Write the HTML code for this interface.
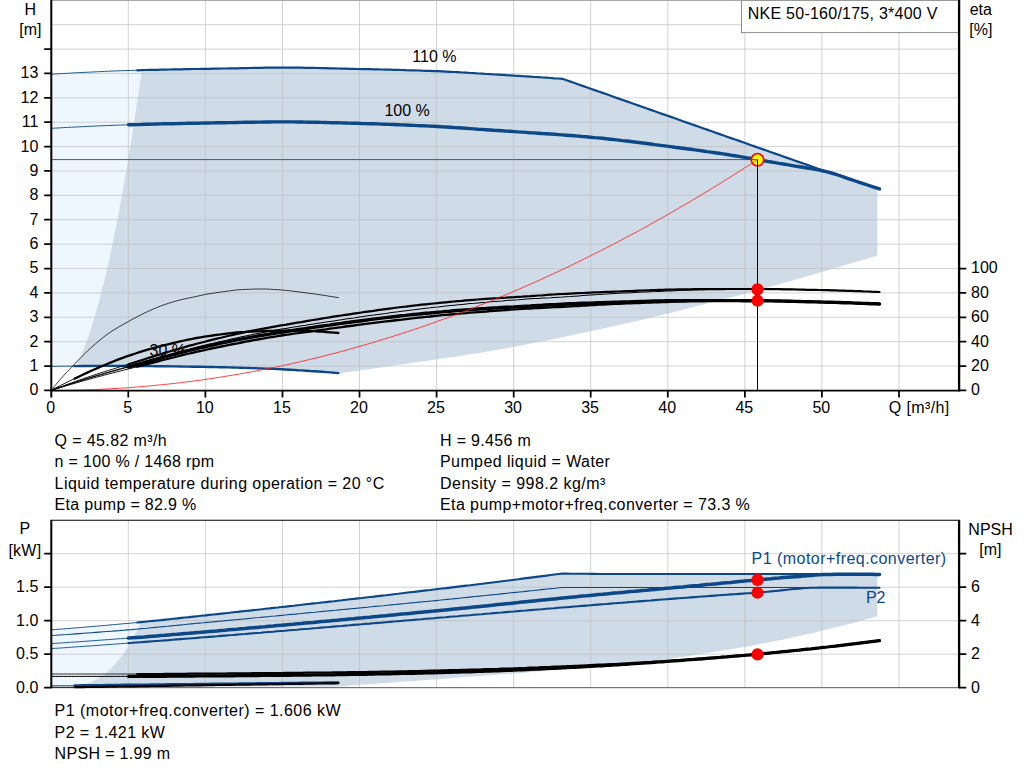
<!DOCTYPE html>
<html lang="en"><head><meta charset="utf-8"><title>Pump curve</title>
<style>html,body{margin:0;padding:0;background:#fff;overflow:hidden}svg{display:block;font-family:"Liberation Sans",sans-serif}</style></head>
<body>
<svg width="1024" height="781" viewBox="0 0 1024 781" font-family="'Liberation Sans', sans-serif" font-size="16" fill="#000">
<rect x="0" y="0" width="1024" height="781" fill="#fff"/>
<path d="M51.2 74.2 L55.4 74.0 L59.5 73.7 L63.6 73.5 L67.8 73.2 L71.9 73.0 L76.0 72.8 L80.1 72.6 L84.2 72.3 L88.4 72.1 L92.5 71.9 L96.6 71.7 L100.8 71.5 L104.9 71.4 L109.0 71.2 L113.1 71.0 L117.2 70.9 L121.4 70.7 L125.5 70.6 L129.6 70.5 L133.8 70.3 L137.9 70.2 L142.0 70.1 L142.0 70.1 L140.5 80.0 L139.8 84.9 L139.1 89.7 L138.4 94.6 L137.6 99.4 L136.9 104.3 L136.2 109.1 L135.4 114.0 L134.7 118.8 L134.0 123.7 L133.2 128.5 L132.4 133.4 L131.7 138.2 L130.9 143.1 L130.1 147.9 L129.3 152.8 L128.5 157.6 L127.7 162.5 L126.9 167.3 L126.1 172.2 L125.2 177.0 L124.4 181.9 L123.5 186.7 L122.7 191.6 L121.8 196.4 L120.9 201.3 L120.0 206.1 L119.1 211.0 L118.2 215.8 L117.2 220.7 L116.3 225.5 L115.3 230.4 L114.3 235.2 L113.3 240.1 L112.3 244.9 L111.3 249.8 L110.3 254.6 L109.2 259.5 L108.1 264.3 L107.0 269.2 L105.9 274.0 L104.7 278.9 L103.6 283.7 L102.3 288.6 L101.1 293.4 L99.9 298.3 L98.6 303.1 L97.2 308.0 L95.8 312.8 L94.4 317.7 L93.0 322.5 L91.4 327.4 L89.9 332.2 L88.2 337.1 L86.5 341.9 L84.7 346.8 L82.8 351.6 L80.7 356.5 L78.5 361.3 L76.2 366.2 L76.2 366.1 L72.0 366.1 L67.9 366.2 L63.7 366.2 L59.6 366.3 L55.4 366.3 L51.2 366.4Z" fill="rgba(85,165,245,0.10)"/>
<path d="M76.2 366.2 L78.5 361.3 L80.7 356.5 L82.8 351.6 L84.7 346.8 L86.5 341.9 L88.2 337.1 L89.9 332.2 L91.4 327.4 L93.0 322.5 L94.4 317.7 L95.8 312.8 L97.2 308.0 L98.6 303.1 L99.9 298.3 L101.1 293.4 L102.3 288.6 L103.6 283.7 L104.7 278.9 L105.9 274.0 L107.0 269.2 L108.1 264.3 L109.2 259.5 L110.3 254.6 L111.3 249.8 L112.3 244.9 L113.3 240.1 L114.3 235.2 L115.3 230.4 L116.3 225.5 L117.2 220.7 L118.2 215.8 L119.1 211.0 L120.0 206.1 L120.9 201.3 L121.8 196.4 L122.7 191.6 L123.5 186.7 L124.4 181.9 L125.2 177.0 L126.1 172.2 L126.9 167.3 L127.7 162.5 L128.5 157.6 L129.3 152.8 L130.1 147.9 L130.9 143.1 L131.7 138.2 L132.4 133.4 L133.2 128.5 L134.0 123.7 L134.7 118.8 L135.4 114.0 L136.2 109.1 L136.9 104.3 L137.6 99.4 L138.4 94.6 L139.1 89.7 L139.8 84.9 L140.5 80.0 L142.0 70.1 L142.0 70.1 L146.0 70.0 L150.0 69.9 L154.0 69.8 L158.0 69.7 L162.0 69.6 L166.0 69.6 L170.0 69.5 L174.0 69.4 L178.0 69.3 L182.0 69.2 L186.1 69.2 L190.1 69.1 L194.1 69.0 L198.1 68.9 L202.1 68.9 L206.1 68.8 L210.1 68.7 L214.1 68.7 L218.1 68.6 L222.1 68.5 L226.1 68.5 L230.1 68.4 L234.1 68.3 L238.1 68.2 L242.1 68.2 L246.1 68.1 L250.1 68.0 L254.1 67.9 L258.1 67.9 L262.1 67.8 L266.1 67.7 L270.2 67.7 L274.2 67.6 L278.2 67.6 L282.2 67.6 L286.2 67.6 L290.2 67.6 L294.2 67.7 L298.2 67.7 L302.2 67.7 L306.2 67.8 L310.2 67.9 L314.2 67.9 L318.2 68.0 L322.2 68.1 L326.2 68.2 L330.2 68.3 L334.2 68.4 L338.2 68.5 L342.2 68.6 L346.2 68.7 L350.2 68.8 L354.3 68.9 L358.3 69.0 L362.3 69.1 L366.3 69.2 L370.3 69.2 L374.3 69.3 L378.3 69.4 L382.3 69.5 L386.3 69.6 L390.3 69.7 L394.3 69.8 L398.3 69.9 L402.3 70.1 L406.3 70.2 L410.3 70.3 L414.3 70.4 L418.3 70.5 L422.3 70.7 L426.3 70.8 L430.3 71.0 L434.3 71.1 L438.4 71.3 L442.4 71.4 L446.4 71.6 L450.4 71.8 L454.4 72.0 L458.4 72.3 L462.4 72.5 L466.4 72.7 L470.4 73.0 L474.4 73.2 L478.4 73.5 L482.4 73.7 L486.4 74.0 L490.4 74.2 L494.4 74.5 L498.4 74.7 L502.4 74.9 L506.4 75.2 L510.4 75.4 L514.4 75.7 L518.4 75.9 L522.5 76.2 L526.5 76.4 L530.5 76.7 L534.5 77.0 L538.5 77.2 L542.5 77.5 L546.5 77.7 L550.5 78.0 L554.5 78.3 L558.5 78.5 L562.5 78.8 L827.0 171.9 L827.0 171.9 L831.2 173.0 L835.4 174.2 L839.6 175.6 L843.8 177.1 L848.0 178.5 L852.1 179.9 L856.3 181.3 L860.5 182.7 L864.7 184.1 L868.9 185.4 L873.1 186.8 L877.3 188.2 L877.3 255.6 L871.2 257.4 L865.2 259.2 L859.1 261.0 L853.1 262.8 L847.0 264.6 L841.0 266.4 L834.9 268.1 L828.9 269.9 L822.8 271.7 L816.7 273.4 L810.7 275.2 L804.6 276.9 L798.6 278.7 L792.5 280.4 L786.5 282.1 L780.4 283.9 L774.4 285.6 L768.3 287.2 L762.3 288.9 L756.2 290.5 L750.1 292.2 L744.1 293.8 L738.0 295.4 L732.0 296.9 L725.9 298.5 L719.9 300.1 L713.8 301.7 L707.8 303.3 L701.7 304.9 L695.6 306.5 L689.6 308.0 L683.5 309.6 L677.5 311.1 L671.4 312.7 L665.4 314.1 L659.3 315.6 L653.3 317.0 L647.2 318.5 L641.2 319.9 L635.1 321.3 L629.0 322.7 L623.0 324.1 L616.9 325.4 L610.9 326.8 L604.8 328.1 L598.8 329.4 L592.7 330.7 L586.7 332.0 L580.6 333.3 L574.5 334.6 L568.5 335.9 L562.4 337.2 L556.4 338.4 L550.3 339.7 L544.3 340.9 L538.2 342.1 L532.2 343.3 L526.1 344.5 L520.1 345.7 L514.0 346.8 L507.9 347.9 L501.9 349.0 L495.8 350.1 L489.8 351.2 L483.7 352.2 L477.7 353.2 L471.6 354.1 L465.6 355.1 L459.5 356.0 L453.4 356.9 L447.4 357.7 L441.3 358.6 L435.3 359.5 L429.2 360.4 L423.2 361.2 L417.1 362.1 L411.1 363.0 L405.0 363.9 L399.0 364.8 L392.9 365.7 L386.8 366.6 L380.8 367.5 L374.7 368.3 L368.7 369.2 L362.6 370.0 L356.6 370.9 L350.5 371.7 L344.5 372.5 L338.4 373.3 L338.4 373.1 L334.4 372.8 L330.3 372.5 L326.3 372.1 L322.3 371.8 L318.2 371.5 L314.2 371.2 L310.2 371.0 L306.1 370.7 L302.1 370.4 L298.1 370.2 L294.0 369.9 L290.0 369.7 L286.0 369.5 L281.9 369.3 L277.9 369.1 L273.8 368.9 L269.8 368.7 L265.8 368.6 L261.7 368.4 L257.7 368.3 L253.7 368.1 L249.6 368.0 L245.6 367.9 L241.6 367.8 L237.5 367.6 L233.5 367.5 L229.5 367.4 L225.4 367.3 L221.4 367.2 L217.4 367.1 L213.3 367.1 L209.3 367.0 L205.3 366.9 L201.2 366.8 L197.2 366.8 L193.2 366.7 L189.1 366.6 L185.1 366.6 L181.1 366.5 L177.0 366.5 L173.0 366.4 L169.0 366.3 L164.9 366.3 L160.9 366.2 L156.9 366.2 L152.8 366.1 L148.8 366.1 L144.7 366.1 L140.7 366.0 L136.7 366.0 L132.6 366.0 L128.6 365.9 L124.6 365.9 L120.5 365.9 L116.5 365.9 L112.5 365.9 L108.4 365.9 L104.4 365.9 L100.4 365.9 L96.3 365.9 L92.3 366.0 L88.3 366.0 L84.2 366.0 L80.2 366.0 L76.2 366.1Z" fill="rgba(15,74,133,0.20)"/>
<path d="M51.2 629.8 L55.3 629.5 L59.4 629.2 L63.4 628.9 L67.5 628.6 L71.6 628.2 L75.6 627.9 L79.7 627.6 L83.7 627.2 L87.8 626.9 L91.9 626.6 L95.9 626.2 L100.0 625.9 L104.0 625.5 L108.1 625.2 L112.2 624.8 L116.2 624.4 L120.3 624.1 L124.4 623.7 L128.4 623.3 L132.5 622.9 L136.5 622.5 L140.6 622.1 L140.6 623.4 L138.6 627.6 L136.6 631.7 L134.5 635.6 L132.5 639.3 L130.5 642.8 L128.5 646.2 L126.5 649.3 L124.4 652.4 L122.4 655.2 L120.4 657.9 L118.4 660.4 L116.3 662.8 L114.3 665.1 L112.3 667.2 L110.3 669.1 L108.3 671.0 L106.2 672.7 L104.2 674.3 L102.2 675.8 L100.2 677.1 L98.2 678.4 L96.1 679.5 L94.1 680.6 L92.1 681.6 L90.1 682.4 L88.0 683.2 L86.0 683.9 L84.0 684.5 L82.0 685.1 L80.0 685.6 L77.9 686.0 L75.9 686.3 L73.9 686.7 L51.2 687.7Z" fill="rgba(85,165,245,0.10)"/>
<path d="M73.9 686.7 L75.9 686.3 L77.9 686.0 L80.0 685.6 L82.0 685.1 L84.0 684.5 L86.0 683.9 L88.0 683.2 L90.1 682.4 L92.1 681.6 L94.1 680.6 L96.1 679.5 L98.2 678.4 L100.2 677.1 L102.2 675.8 L104.2 674.3 L106.2 672.7 L108.3 671.0 L110.3 669.1 L112.3 667.2 L114.3 665.1 L116.3 662.8 L118.4 660.4 L120.4 657.9 L122.4 655.2 L124.4 652.4 L126.5 649.3 L128.5 646.2 L130.5 642.8 L132.5 639.3 L134.5 635.6 L136.6 631.7 L138.6 627.6 L140.6 623.4 L140.6 622.1 L144.6 621.8 L148.6 621.4 L152.6 620.9 L156.6 620.5 L160.6 620.1 L164.6 619.7 L168.6 619.3 L172.6 618.9 L176.6 618.4 L180.6 618.0 L184.6 617.6 L188.6 617.2 L192.6 616.7 L196.7 616.3 L200.7 615.9 L204.7 615.4 L208.7 615.0 L212.7 614.6 L216.7 614.1 L220.7 613.7 L224.7 613.3 L228.7 612.8 L232.7 612.4 L236.7 612.0 L240.7 611.5 L244.7 611.1 L248.7 610.7 L252.7 610.2 L256.7 609.8 L260.7 609.3 L264.7 608.9 L268.7 608.5 L272.7 608.0 L276.7 607.6 L280.7 607.1 L284.7 606.7 L288.7 606.2 L292.7 605.8 L296.7 605.3 L300.8 604.9 L304.8 604.5 L308.8 604.0 L312.8 603.6 L316.8 603.1 L320.8 602.6 L324.8 602.2 L328.8 601.7 L332.8 601.3 L336.8 600.8 L340.8 600.4 L344.8 599.9 L348.8 599.5 L352.8 599.0 L356.8 598.5 L360.8 598.1 L364.8 597.6 L368.8 597.2 L372.8 596.7 L376.8 596.2 L380.8 595.8 L384.8 595.3 L388.8 594.8 L392.8 594.4 L396.8 593.9 L400.8 593.4 L404.9 593.0 L408.9 592.5 L412.9 592.0 L416.9 591.5 L420.9 591.1 L424.9 590.6 L428.9 590.1 L432.9 589.6 L436.9 589.2 L440.9 588.7 L444.9 588.2 L448.9 587.7 L452.9 587.3 L456.9 586.8 L460.9 586.3 L464.9 585.8 L468.9 585.3 L472.9 584.8 L476.9 584.3 L480.9 583.8 L484.9 583.3 L488.9 582.9 L492.9 582.4 L496.9 581.9 L500.9 581.4 L504.9 580.8 L508.9 580.3 L513.0 579.8 L517.0 579.3 L521.0 578.8 L525.0 578.3 L529.0 577.8 L533.0 577.3 L537.0 576.8 L541.0 576.3 L545.0 575.8 L549.0 575.2 L553.0 574.7 L557.0 574.2 L561.0 573.7 L565.0 573.6 L569.0 573.7 L573.0 573.7 L577.0 573.8 L581.0 573.8 L585.0 573.8 L589.0 573.9 L593.0 573.9 L597.0 574.0 L601.0 574.0 L605.0 574.0 L609.0 574.0 L613.0 574.0 L617.1 574.0 L621.1 574.0 L625.1 574.0 L629.1 574.0 L633.1 574.0 L637.1 574.0 L641.1 574.0 L645.1 574.0 L649.1 574.0 L653.1 574.0 L657.1 574.0 L661.1 574.0 L665.1 574.0 L669.1 574.0 L673.1 574.0 L677.1 574.0 L681.1 574.0 L685.1 574.0 L689.1 574.0 L693.1 574.0 L697.1 574.0 L701.1 574.0 L705.1 574.0 L709.1 574.0 L713.1 574.0 L717.1 574.0 L721.2 574.0 L725.2 574.0 L729.2 574.0 L733.2 574.0 L737.2 574.0 L741.2 574.0 L745.2 574.0 L749.2 574.0 L753.2 574.0 L757.2 574.0 L761.2 574.0 L765.2 574.0 L769.2 574.0 L773.2 574.0 L777.2 574.0 L781.2 574.0 L785.2 574.0 L789.2 574.0 L793.2 574.0 L797.2 574.0 L801.2 574.0 L805.2 574.0 L809.2 574.0 L813.2 574.0 L817.2 574.0 L821.2 574.0 L825.3 574.0 L829.3 574.0 L833.3 574.0 L837.3 574.0 L841.3 574.0 L845.3 574.0 L849.3 574.0 L853.3 574.0 L857.3 574.0 L861.3 574.0 L865.3 574.0 L869.3 574.0 L873.3 574.0 L877.3 574.0 L877.3 616.2 L871.2 617.9 L865.2 619.6 L859.1 621.3 L853.1 622.9 L847.0 624.5 L841.0 626.1 L834.9 627.6 L828.9 629.1 L822.8 630.6 L816.7 632.0 L810.7 633.4 L804.6 634.7 L798.6 636.1 L792.5 637.4 L786.5 638.7 L780.4 639.9 L774.4 641.2 L768.3 642.4 L762.3 643.6 L756.2 644.7 L750.1 645.9 L744.1 647.0 L738.0 648.0 L732.0 649.1 L725.9 650.1 L719.9 651.1 L713.8 652.0 L707.8 653.0 L701.7 653.9 L695.6 654.9 L689.6 655.8 L683.5 656.7 L677.5 657.6 L671.4 658.5 L665.4 659.4 L659.3 660.3 L653.3 661.2 L647.2 662.1 L641.2 662.9 L635.1 663.6 L629.0 664.2 L623.0 664.8 L616.9 665.4 L610.9 665.9 L604.8 666.4 L598.8 666.9 L592.7 667.4 L586.7 667.8 L580.6 668.3 L574.5 668.7 L568.5 669.2 L562.4 669.6 L556.4 670.1 L550.3 670.6 L544.3 671.1 L538.2 671.5 L532.2 672.0 L526.1 672.5 L520.1 673.0 L514.0 673.4 L507.9 673.9 L501.9 674.3 L495.8 674.8 L489.8 675.3 L483.7 675.7 L477.7 676.2 L471.6 676.6 L465.6 677.1 L459.5 677.6 L453.4 678.0 L447.4 678.5 L441.3 678.9 L435.3 679.4 L429.2 679.8 L423.2 680.3 L417.1 680.7 L411.1 681.2 L405.0 681.6 L399.0 682.1 L392.9 682.5 L386.8 682.9 L380.8 683.3 L374.7 683.8 L368.7 684.2 L362.6 684.6 L356.6 685.0 L350.5 685.5 L344.5 685.9 L338.4 686.4 L73.9 686.6Z" fill="rgba(15,74,133,0.20)"/>
<path d="M128.3 0V390.4M205.4 0V390.4M282.5 0V390.4M359.5 0V390.4M436.6 0V390.4M513.7 0V390.4M590.7 0V390.4M667.8 0V390.4M744.9 0V390.4M821.9 0V390.4M899.0 0V390.4M51.2 366.02H959.5M51.2 341.64H959.5M51.2 317.26H959.5M51.2 292.88H959.5M51.2 268.50H959.5M51.2 244.12H959.5M51.2 219.74H959.5M51.2 195.36H959.5M51.2 170.98H959.5M51.2 146.60H959.5M51.2 122.22H959.5M51.2 97.84H959.5M51.2 73.46H959.5M51.2 49.08H959.5M51.2 24.70H959.5M51.2 0.32H959.5" stroke="#bcbec1" stroke-opacity="0.68" stroke-width="1" fill="none"/>
<path d="M128.3 520.3V687.7M205.4 520.3V687.7M282.5 520.3V687.7M359.5 520.3V687.7M436.6 520.3V687.7M513.7 520.3V687.7M590.7 520.3V687.7M667.8 520.3V687.7M744.9 520.3V687.7M821.9 520.3V687.7M899.0 520.3V687.7M51.2 654.20H959.5M51.2 620.70H959.5M51.2 587.20H959.5M51.2 553.70H959.5" stroke="#bcbec1" stroke-opacity="0.68" stroke-width="1" fill="none"/>
<path d="M51.2 159.6H757.5" stroke="#555" stroke-width="1" fill="none"/>
<text x="149.6" y="355.6">30 %</text>
<path d="M51.2 366.4 L55.9 366.3 L60.6 366.3 L65.3 366.2 L69.9 366.2 L74.6 366.1" fill="none" stroke="#0c4887" stroke-width="0.9" stroke-linecap="round" stroke-linejoin="round"/>
<path d="M74.6 366.1 L78.7 366.1 L82.7 366.0 L86.8 366.0 L90.8 366.0 L94.9 365.9 L99.0 365.9 L103.0 365.9 L107.1 365.9 L111.1 365.9 L115.2 365.9 L119.2 365.9 L123.3 365.9 L127.4 365.9 L131.4 365.9 L135.5 366.0 L139.5 366.0 L143.6 366.0 L147.7 366.1 L151.7 366.1 L155.8 366.2 L159.8 366.2 L163.9 366.3 L167.9 366.3 L172.0 366.4 L176.1 366.4 L180.1 366.5 L184.2 366.6 L188.2 366.6 L192.3 366.7 L196.4 366.8 L200.4 366.8 L204.5 366.9 L208.5 367.0 L212.6 367.0 L216.6 367.1 L220.7 367.2 L224.8 367.3 L228.8 367.4 L232.9 367.5 L236.9 367.6 L241.0 367.7 L245.1 367.9 L249.1 368.0 L253.2 368.1 L257.2 368.3 L261.3 368.4 L265.3 368.6 L269.4 368.7 L273.5 368.9 L277.5 369.1 L281.6 369.3 L285.6 369.5 L289.7 369.7 L293.8 369.9 L297.8 370.2 L301.9 370.4 L305.9 370.7 L310.0 371.0 L314.0 371.2 L318.1 371.5 L322.2 371.8 L326.2 372.1 L330.3 372.4 L334.3 372.8 L338.4 373.1" fill="none" stroke="#0c4887" stroke-width="2.4" stroke-linecap="round" stroke-linejoin="round"/>
<path d="M51.2 74.2 L55.3 74.0 L59.4 73.7 L63.5 73.5 L67.6 73.3 L71.7 73.0 L75.8 72.8 L79.9 72.6 L84.0 72.4 L88.1 72.2 L92.2 72.0 L96.3 71.8 L100.4 71.6 L104.5 71.4 L108.5 71.2 L112.6 71.0 L116.7 70.9 L120.8 70.7 L124.9 70.6 L129.0 70.5 L133.1 70.4 L137.2 70.3" fill="none" stroke="#0c4887" stroke-width="0.9" stroke-linecap="round" stroke-linejoin="round"/>
<path d="M137.2 70.3 L141.2 70.1 L145.2 70.0 L149.2 69.9 L153.2 69.8 L157.3 69.8 L161.3 69.7 L165.3 69.6 L169.3 69.5 L173.3 69.4 L177.3 69.3 L181.3 69.3 L185.3 69.2 L189.4 69.1 L193.4 69.0 L197.4 69.0 L201.4 68.9 L205.4 68.8 L209.4 68.8 L213.4 68.7 L217.4 68.6 L221.5 68.5 L225.5 68.5 L229.5 68.4 L233.5 68.3 L237.5 68.3 L241.5 68.2 L245.5 68.1 L249.5 68.0 L253.6 67.9 L257.6 67.9 L261.6 67.8 L265.6 67.7 L269.6 67.7 L273.6 67.6 L277.6 67.6 L281.6 67.6 L285.7 67.6 L289.7 67.6 L293.7 67.6 L297.7 67.7 L301.7 67.7 L305.7 67.8 L309.7 67.9 L313.7 67.9 L317.8 68.0 L321.8 68.1 L325.8 68.2 L329.8 68.3 L333.8 68.4 L337.8 68.5 L341.8 68.6 L345.8 68.7 L349.9 68.8 L353.9 68.9 L357.9 69.0 L361.9 69.1 L365.9 69.1 L369.9 69.2 L373.9 69.3 L377.9 69.4 L382.0 69.5 L386.0 69.6 L390.0 69.7 L394.0 69.8 L398.0 69.9 L402.0 70.0 L406.0 70.2 L410.0 70.3 L414.1 70.4 L418.1 70.5 L422.1 70.7 L426.1 70.8 L430.1 70.9 L434.1 71.1 L438.1 71.2 L442.1 71.4 L446.2 71.6 L450.2 71.8 L454.2 72.0 L458.2 72.2 L462.2 72.5 L466.2 72.7 L470.2 73.0 L474.2 73.2 L478.3 73.5 L482.3 73.7 L486.3 74.0 L490.3 74.2 L494.3 74.5 L498.3 74.7 L502.3 74.9 L506.3 75.2 L510.4 75.4 L514.4 75.7 L518.4 75.9 L522.4 76.2 L526.4 76.4 L530.4 76.7 L534.4 77.0 L538.4 77.2 L542.5 77.5 L546.5 77.7 L550.5 78.0 L554.5 78.3 L558.5 78.5 L562.5 78.8 L566.5 80.2 L570.5 81.6 L574.6 83.0 L578.6 84.5 L582.6 85.9 L586.6 87.3 L590.6 88.7 L594.6 90.1 L598.6 91.5 L602.6 92.9 L606.7 94.3 L610.7 95.7 L614.7 97.2 L618.7 98.6 L622.7 100.0 L626.7 101.4 L630.7 102.8 L634.7 104.2 L638.8 105.6 L642.8 107.0 L646.8 108.5 L650.8 109.9 L654.8 111.3 L658.8 112.7 L662.8 114.1 L666.8 115.5 L670.9 116.9 L674.9 118.3 L678.9 119.7 L682.9 121.2 L686.9 122.6 L690.9 124.0 L694.9 125.4 L698.9 126.8 L703.0 128.2 L707.0 129.6 L711.0 131.0 L715.0 132.5 L719.0 133.9 L723.0 135.3 L727.0 136.7 L731.0 138.1 L735.1 139.5 L739.1 140.9 L743.1 142.3 L747.1 143.8 L751.1 145.2 L755.1 146.6 L759.1 148.0 L763.1 149.4 L767.2 150.8 L771.2 152.2 L775.2 153.6 L779.2 155.0 L783.2 156.5 L787.2 157.9 L791.2 159.3 L795.2 160.7 L799.3 162.1 L803.3 163.5 L807.3 164.9 L811.3 166.3 L815.3 167.8 L819.3 169.2 L823.3 170.6 L827.3 172.0 L831.4 173.0 L835.4 174.2 L839.4 175.5 L843.4 176.9 L847.4 178.3 L851.4 179.7 L855.4 181.0 L859.4 182.3 L863.5 183.6 L867.5 185.0 L871.5 186.3 L875.5 187.6 L879.5 188.9" fill="none" stroke="#0c4887" stroke-width="2.2" stroke-linecap="round" stroke-linejoin="round"/>
<path d="M51.2 128.3 L55.3 128.1 L59.4 127.9 L63.4 127.6 L67.5 127.4 L71.6 127.2 L75.6 127.0 L79.7 126.8 L83.8 126.6 L87.8 126.4 L91.9 126.2 L96.0 126.0 L100.0 125.8 L104.1 125.7 L108.2 125.5 L112.2 125.4 L116.3 125.2 L120.4 125.1 L124.4 124.9 L128.5 124.8" fill="none" stroke="#0c4887" stroke-width="0.9" stroke-linecap="round" stroke-linejoin="round"/>
<path d="M128.5 124.8 L132.5 124.7 L136.5 124.6 L140.5 124.5 L144.6 124.3 L148.6 124.2 L152.6 124.1 L156.6 124.0 L160.6 123.9 L164.6 123.8 L168.7 123.8 L172.7 123.7 L176.7 123.6 L180.7 123.5 L184.7 123.4 L188.7 123.3 L192.8 123.3 L196.8 123.2 L200.8 123.1 L204.8 123.0 L208.8 123.0 L212.8 122.9 L216.9 122.8 L220.9 122.7 L224.9 122.7 L228.9 122.6 L232.9 122.6 L236.9 122.5 L240.9 122.4 L245.0 122.3 L249.0 122.3 L253.0 122.2 L257.0 122.1 L261.0 122.1 L265.0 122.0 L269.1 122.0 L273.1 121.9 L277.1 121.9 L281.1 121.9 L285.1 121.9 L289.1 121.9 L293.2 121.9 L297.2 122.0 L301.2 122.0 L305.2 122.1 L309.2 122.2 L313.2 122.2 L317.3 122.3 L321.3 122.4 L325.3 122.5 L329.3 122.6 L333.3 122.7 L337.3 122.8 L341.4 122.9 L345.4 123.0 L349.4 123.1 L353.4 123.2 L357.4 123.3 L361.4 123.5 L365.4 123.6 L369.5 123.7 L373.5 123.8 L377.5 123.9 L381.5 124.1 L385.5 124.2 L389.5 124.4 L393.6 124.5 L397.6 124.7 L401.6 124.9 L405.6 125.0 L409.6 125.2 L413.6 125.4 L417.7 125.6 L421.7 125.7 L425.7 125.9 L429.7 126.1 L433.7 126.3 L437.7 126.5 L441.8 126.8 L445.8 127.0 L449.8 127.2 L453.8 127.5 L457.8 127.7 L461.8 128.0 L465.8 128.3 L469.9 128.6 L473.9 128.9 L477.9 129.2 L481.9 129.4 L485.9 129.7 L489.9 130.0 L494.0 130.3 L498.0 130.5 L502.0 130.8 L506.0 131.1 L510.0 131.3 L514.0 131.6 L518.1 131.9 L522.1 132.1 L526.1 132.4 L530.1 132.7 L534.1 132.9 L538.1 133.2 L542.2 133.5 L546.2 133.7 L550.2 134.0 L554.2 134.3 L558.2 134.6 L562.2 134.9 L566.2 135.2 L570.3 135.5 L574.3 135.8 L578.3 136.1 L582.3 136.5 L586.3 136.8 L590.3 137.2 L594.4 137.6 L598.4 137.9 L602.4 138.3 L606.4 138.8 L610.4 139.2 L614.4 139.6 L618.5 140.1 L622.5 140.6 L626.5 141.0 L630.5 141.5 L634.5 142.0 L638.5 142.5 L642.6 143.0 L646.6 143.5 L650.6 144.0 L654.6 144.6 L658.6 145.1 L662.6 145.6 L666.6 146.1 L670.7 146.6 L674.7 147.2 L678.7 147.7 L682.7 148.2 L686.7 148.8 L690.7 149.3 L694.8 149.9 L698.8 150.4 L702.8 151.0 L706.8 151.6 L710.8 152.1 L714.8 152.7 L718.9 153.3 L722.9 153.9 L726.9 154.5 L730.9 155.2 L734.9 155.8 L738.9 156.4 L743.0 157.1 L747.0 157.8 L751.0 158.5 L755.0 159.3 L759.0 160.0 L763.0 160.7 L767.1 161.3 L771.1 162.0 L775.1 162.7 L779.1 163.4 L783.1 164.0 L787.1 164.7 L791.1 165.4 L795.2 166.1 L799.2 166.7 L803.2 167.3 L807.2 168.0 L811.2 168.7 L815.2 169.4 L819.3 170.1 L823.3 171.0 L827.3 171.9 L831.3 173.0 L835.3 174.2 L839.3 175.5 L843.4 176.9 L847.4 178.3 L851.4 179.7 L855.4 181.0 L859.4 182.3 L863.4 183.6 L867.5 185.0 L871.5 186.3 L875.5 187.6 L879.5 188.9" fill="none" stroke="#0c4887" stroke-width="3.4" stroke-linecap="round" stroke-linejoin="round"/>
<path d="M51.2 390.4 L55.3 385.3 L59.3 380.5 L63.4 375.9 L67.4 371.5 L71.5 367.3 L75.5 363.1 L79.6 358.9 L83.6 354.8 L87.6 350.8 L91.7 347.1 L95.7 343.6 L99.8 340.2 L103.8 336.9 L107.9 333.9 L111.9 331.1 L116.0 328.6 L120.0 326.2 L124.0 323.9 L128.1 321.7 L132.1 319.4 L136.2 317.3 L140.2 315.2 L144.3 313.2 L148.3 311.3 L152.4 309.4 L156.4 307.7 L160.4 306.1 L164.5 304.7 L168.5 303.3 L172.6 302.0 L176.6 300.9 L180.7 299.8 L184.7 298.9 L188.8 298.0 L192.8 297.2 L196.8 296.3 L200.9 295.4 L204.9 294.5 L209.0 293.8 L213.0 293.2 L217.1 292.6 L221.1 292.0 L225.2 291.5 L229.2 290.9 L233.2 290.4 L237.3 289.9 L241.3 289.6 L245.4 289.4 L249.4 289.3 L253.5 289.1 L257.5 289.0 L261.6 289.0 L265.6 289.0 L269.6 289.2 L273.7 289.5 L277.7 289.7 L281.8 290.0 L285.8 290.4 L289.9 290.8 L293.9 291.3 L298.0 291.8 L302.0 292.3 L306.0 292.8 L310.1 293.4 L314.1 293.9 L318.2 294.5 L322.2 295.1 L326.3 295.7 L330.3 296.4 L334.4 297.0 L338.4 297.7" fill="none" stroke="#000" stroke-width="0.75" stroke-linecap="round" stroke-linejoin="round"/>
<path d="M51.2 390.1 L55.9 387.8 L60.6 385.4 L65.3 383.1 L69.9 380.8 L74.6 378.6" fill="none" stroke="#000" stroke-width="0.9" stroke-linecap="round" stroke-linejoin="round"/>
<path d="M74.6 378.6 L78.7 376.7 L82.7 374.8 L86.8 372.9 L90.8 371.0 L94.9 369.2 L99.0 367.4 L103.0 365.7 L107.1 364.0 L111.1 362.4 L115.2 360.7 L119.2 359.2 L123.3 357.6 L127.4 356.2 L131.4 354.8 L135.5 353.5 L139.5 352.2 L143.6 350.9 L147.7 349.7 L151.7 348.5 L155.8 347.4 L159.8 346.3 L163.9 345.3 L167.9 344.3 L172.0 343.3 L176.1 342.3 L180.1 341.4 L184.2 340.5 L188.2 339.6 L192.3 338.8 L196.4 338.0 L200.4 337.3 L204.5 336.7 L208.5 336.1 L212.6 335.5 L216.6 334.9 L220.7 334.4 L224.8 333.8 L228.8 333.3 L232.9 332.9 L236.9 332.5 L241.0 332.1 L245.1 331.9 L249.1 331.6 L253.2 331.5 L257.2 331.3 L261.3 331.2 L265.3 331.0 L269.4 330.9 L273.5 330.8 L277.5 330.7 L281.6 330.7 L285.6 330.6 L289.7 330.6 L293.8 330.6 L297.8 330.7 L301.9 330.8 L305.9 330.9 L310.0 331.1 L314.0 331.2 L318.1 331.5 L322.2 331.7 L326.2 332.0 L330.3 332.3 L334.3 332.6 L338.4 333.0" fill="none" stroke="#000" stroke-width="2.3" stroke-linecap="round" stroke-linejoin="round"/>
<path d="M51.2 390.4 L55.3 389.0 L59.4 387.6 L63.5 386.2 L67.6 384.8 L71.7 383.4 L75.8 382.1 L79.9 380.8 L84.0 379.5 L88.1 378.2 L92.2 376.9 L96.3 375.7 L100.4 374.5 L104.5 373.3 L108.5 372.1 L112.6 370.9 L116.7 369.7 L120.8 368.6 L124.9 367.4 L129.0 366.3 L133.1 365.1 L137.2 363.9" fill="none" stroke="#000" stroke-width="0.9" stroke-linecap="round" stroke-linejoin="round"/>
<path d="M137.2 363.9 L141.2 362.8 L145.2 361.6 L149.2 360.5 L153.2 359.3 L157.3 358.2 L161.3 357.0 L165.3 355.9 L169.3 354.7 L173.3 353.6 L177.3 352.5 L181.3 351.3 L185.3 350.3 L189.4 349.2 L193.4 348.1 L197.4 347.1 L201.4 346.1 L205.4 345.1 L209.4 344.1 L213.4 343.2 L217.4 342.2 L221.5 341.3 L225.5 340.4 L229.5 339.5 L233.5 338.6 L237.5 337.7 L241.5 336.8 L245.5 336.0 L249.5 335.2 L253.6 334.3 L257.6 333.5 L261.6 332.7 L265.6 332.0 L269.6 331.2 L273.6 330.5 L277.6 329.8 L281.6 329.1 L285.7 328.4 L289.7 327.7 L293.7 327.1 L297.7 326.4 L301.7 325.8 L305.7 325.2 L309.7 324.5 L313.7 323.9 L317.8 323.3 L321.8 322.7 L325.8 322.1 L329.8 321.5 L333.8 320.9 L337.8 320.3 L341.8 319.7 L345.8 319.1 L349.9 318.4 L353.9 317.9 L357.9 317.3 L361.9 316.7 L365.9 316.1 L369.9 315.5 L373.9 315.0 L377.9 314.4 L382.0 313.9 L386.0 313.4 L390.0 312.8 L394.0 312.3 L398.0 311.8 L402.0 311.2 L406.0 310.7 L410.0 310.2 L414.1 309.7 L418.1 309.2 L422.1 308.7 L426.1 308.2 L430.1 307.8 L434.1 307.3 L438.1 306.9 L442.1 306.4 L446.2 306.0 L450.2 305.6 L454.2 305.2 L458.2 304.8 L462.2 304.4 L466.2 304.0 L470.2 303.6 L474.2 303.3 L478.3 302.9 L482.3 302.5 L486.3 302.2 L490.3 301.8 L494.3 301.5 L498.3 301.2 L502.3 300.9 L506.3 300.5 L510.4 300.2 L514.4 299.9 L518.4 299.7 L522.4 299.4 L526.4 299.1 L530.4 298.8 L534.4 298.6 L538.4 298.4 L542.5 298.1 L546.5 297.9 L550.5 297.7 L554.5 297.4 L558.5 297.2 L562.5 297.0 L566.5 296.7 L570.5 296.5 L574.6 296.2 L578.6 295.9 L582.6 295.6 L586.6 295.3 L590.6 295.0 L594.6 294.7 L598.6 294.5 L602.6 294.2 L606.7 293.9 L610.7 293.7 L614.7 293.5 L618.7 293.3 L622.7 293.1 L626.7 292.9 L630.7 292.7 L634.7 292.5 L638.8 292.3 L642.8 292.1 L646.8 291.9 L650.8 291.7 L654.8 291.6 L658.8 291.4 L662.8 291.2 L666.8 291.0 L670.9 290.9 L674.9 290.7 L678.9 290.5 L682.9 290.3 L686.9 290.2 L690.9 290.0 L694.9 289.9 L698.9 289.8 L703.0 289.7 L707.0 289.6 L711.0 289.5 L715.0 289.4 L719.0 289.4 L723.0 289.4 L727.0 289.3 L731.0 289.3 L735.1 289.2 L739.1 289.2 L743.1 289.2 L747.1 289.1 L751.1 289.1 L755.1 289.1 L759.1 289.0 L763.1 289.0 L767.2 289.0 L771.2 289.0 L775.2 289.0 L779.2 289.1 L783.2 289.1 L787.2 289.2 L791.2 289.2 L795.2 289.3 L799.3 289.4 L803.3 289.5 L807.3 289.6 L811.3 289.8 L815.3 289.9 L819.3 290.0 L823.3 290.1 L827.3 290.2 L831.4 290.3 L835.4 290.4 L839.4 290.6 L843.4 290.7 L847.4 290.8 L851.4 290.9 L855.4 291.1 L859.4 291.2 L863.5 291.4 L867.5 291.5 L871.5 291.7 L875.5 291.8 L879.5 292.0" fill="none" stroke="#000" stroke-width="1.05" stroke-linecap="round" stroke-linejoin="round"/>
<path d="M51.2 390.4 L55.3 389.1 L59.4 387.9 L63.5 386.6 L67.6 385.4 L71.7 384.2 L75.8 383.0 L79.9 381.8 L84.0 380.6 L88.1 379.5 L92.2 378.4 L96.3 377.2 L100.4 376.2 L104.5 375.1 L108.5 374.0 L112.6 373.0 L116.7 371.9 L120.8 370.9 L124.9 369.8 L129.0 368.8 L133.1 367.8 L137.2 366.7" fill="none" stroke="#000" stroke-width="0.9" stroke-linecap="round" stroke-linejoin="round"/>
<path d="M137.2 366.7 L141.2 365.7 L145.2 364.7 L149.2 363.6 L153.2 362.6 L157.3 361.6 L161.3 360.5 L165.3 359.5 L169.3 358.5 L173.3 357.5 L177.3 356.5 L181.3 355.5 L185.3 354.5 L189.4 353.5 L193.4 352.6 L197.4 351.7 L201.4 350.8 L205.4 349.9 L209.4 349.0 L213.4 348.2 L217.4 347.3 L221.5 346.5 L225.5 345.7 L229.5 344.8 L233.5 344.0 L237.5 343.3 L241.5 342.5 L245.5 341.7 L249.5 341.0 L253.6 340.2 L257.6 339.5 L261.6 338.8 L265.6 338.1 L269.6 337.4 L273.6 336.8 L277.6 336.2 L281.6 335.5 L285.7 334.9 L289.7 334.3 L293.7 333.7 L297.7 333.2 L301.7 332.6 L305.7 332.0 L309.7 331.5 L313.7 330.9 L317.8 330.4 L321.8 329.8 L325.8 329.3 L329.8 328.7 L333.8 328.2 L337.8 327.6 L341.8 327.1 L345.8 326.5 L349.9 326.0 L353.9 325.5 L357.9 324.9 L361.9 324.4 L365.9 323.9 L369.9 323.4 L373.9 322.9 L377.9 322.4 L382.0 321.9 L386.0 321.4 L390.0 321.0 L394.0 320.5 L398.0 320.0 L402.0 319.6 L406.0 319.1 L410.0 318.6 L414.1 318.2 L418.1 317.7 L422.1 317.3 L426.1 316.9 L430.1 316.5 L434.1 316.0 L438.1 315.6 L442.1 315.2 L446.2 314.9 L450.2 314.5 L454.2 314.1 L458.2 313.8 L462.2 313.4 L466.2 313.1 L470.2 312.7 L474.2 312.4 L478.3 312.1 L482.3 311.8 L486.3 311.5 L490.3 311.1 L494.3 310.8 L498.3 310.5 L502.3 310.3 L506.3 310.0 L510.4 309.7 L514.4 309.4 L518.4 309.2 L522.4 308.9 L526.4 308.7 L530.4 308.5 L534.4 308.2 L538.4 308.0 L542.5 307.8 L546.5 307.6 L550.5 307.4 L554.5 307.2 L558.5 307.1 L562.5 306.9 L566.5 306.6 L570.5 306.4 L574.6 306.2 L578.6 306.0 L582.6 305.7 L586.6 305.5 L590.6 305.2 L594.6 305.0 L598.6 304.7 L602.6 304.5 L606.7 304.3 L610.7 304.1 L614.7 303.9 L618.7 303.8 L622.7 303.6 L626.7 303.4 L630.7 303.3 L634.7 303.1 L638.8 303.0 L642.8 302.8 L646.8 302.7 L650.8 302.5 L654.8 302.4 L658.8 302.3 L662.8 302.1 L666.8 302.0 L670.9 301.9 L674.9 301.7 L678.9 301.6 L682.9 301.5 L686.9 301.4 L690.9 301.2 L694.9 301.2 L698.9 301.1 L703.0 301.0 L707.0 300.9 L711.0 300.9 L715.0 300.9 L719.0 300.9 L723.0 300.9 L727.0 300.8 L731.0 300.8 L735.1 300.8 L739.1 300.8 L743.1 300.8 L747.1 300.8 L751.1 300.8 L755.1 300.8 L759.1 300.8 L763.1 300.8 L767.2 300.8 L771.2 300.8 L775.2 300.9 L779.2 300.9 L783.2 301.0 L787.2 301.0 L791.2 301.1 L795.2 301.2 L799.3 301.3 L803.3 301.5 L807.3 301.6 L811.3 301.7 L815.3 301.8 L819.3 301.9 L823.3 302.1 L827.3 302.2 L831.4 302.3 L835.4 302.4 L839.4 302.5 L843.4 302.7 L847.4 302.8 L851.4 302.9 L855.4 303.1 L859.4 303.2 L863.5 303.4 L867.5 303.5 L871.5 303.7 L875.5 303.8 L879.5 304.0" fill="none" stroke="#000" stroke-width="2.3" stroke-linecap="round" stroke-linejoin="round"/>
<path d="M51.2 390.4 L55.3 388.8 L59.4 387.3 L63.4 385.8 L67.5 384.3 L71.6 382.8 L75.6 381.4 L79.7 379.9 L83.8 378.5 L87.8 377.1 L91.9 375.8 L96.0 374.4 L100.0 373.1 L104.1 371.8 L108.2 370.5 L112.2 369.3 L116.3 368.0 L120.4 366.7 L124.4 365.5 L128.5 364.2" fill="none" stroke="#000" stroke-width="0.9" stroke-linecap="round" stroke-linejoin="round"/>
<path d="M128.5 364.2 L132.5 363.0 L136.5 361.7 L140.5 360.5 L144.6 359.2 L148.6 357.9 L152.6 356.7 L156.6 355.4 L160.6 354.2 L164.6 352.9 L168.7 351.7 L172.7 350.5 L176.7 349.3 L180.7 348.2 L184.7 347.1 L188.7 345.9 L192.8 344.9 L196.8 343.8 L200.8 342.7 L204.8 341.7 L208.8 340.6 L212.8 339.6 L216.9 338.6 L220.9 337.7 L224.9 336.7 L228.9 335.8 L232.9 334.9 L236.9 334.0 L240.9 333.1 L245.0 332.2 L249.0 331.4 L253.0 330.6 L257.0 329.8 L261.0 329.0 L265.0 328.3 L269.1 327.6 L273.1 326.8 L277.1 326.1 L281.1 325.4 L285.1 324.8 L289.1 324.1 L293.2 323.4 L297.2 322.7 L301.2 322.1 L305.2 321.4 L309.2 320.7 L313.2 320.0 L317.3 319.4 L321.3 318.7 L325.3 318.0 L329.3 317.4 L333.3 316.7 L337.3 316.1 L341.4 315.5 L345.4 314.9 L349.4 314.3 L353.4 313.7 L357.4 313.1 L361.4 312.5 L365.4 311.9 L369.5 311.3 L373.5 310.8 L377.5 310.2 L381.5 309.7 L385.5 309.1 L389.5 308.6 L393.6 308.0 L397.6 307.5 L401.6 307.0 L405.6 306.6 L409.6 306.1 L413.6 305.6 L417.7 305.2 L421.7 304.7 L425.7 304.3 L429.7 303.9 L433.7 303.5 L437.7 303.1 L441.8 302.7 L445.8 302.3 L449.8 301.9 L453.8 301.5 L457.8 301.1 L461.8 300.8 L465.8 300.4 L469.9 300.1 L473.9 299.8 L477.9 299.5 L481.9 299.2 L485.9 298.9 L489.9 298.6 L494.0 298.3 L498.0 298.1 L502.0 297.8 L506.0 297.6 L510.0 297.3 L514.0 297.1 L518.1 296.8 L522.1 296.6 L526.1 296.3 L530.1 296.1 L534.1 295.8 L538.1 295.5 L542.2 295.3 L546.2 295.0 L550.2 294.7 L554.2 294.5 L558.2 294.2 L562.2 294.0 L566.2 293.8 L570.3 293.6 L574.3 293.4 L578.3 293.2 L582.3 293.0 L586.3 292.8 L590.3 292.6 L594.4 292.4 L598.4 292.3 L602.4 292.1 L606.4 291.9 L610.4 291.8 L614.4 291.6 L618.5 291.5 L622.5 291.3 L626.5 291.1 L630.5 291.0 L634.5 290.8 L638.5 290.6 L642.6 290.5 L646.6 290.3 L650.6 290.2 L654.6 290.0 L658.6 289.9 L662.6 289.8 L666.6 289.7 L670.7 289.6 L674.7 289.5 L678.7 289.4 L682.7 289.3 L686.7 289.3 L690.7 289.3 L694.8 289.2 L698.8 289.2 L702.8 289.2 L706.8 289.2 L710.8 289.1 L714.8 289.1 L718.9 289.1 L722.9 289.1 L726.9 289.0 L730.9 289.0 L734.9 289.0 L738.9 289.0 L743.0 289.0 L747.0 289.0 L751.0 289.0 L755.0 289.0 L759.0 289.0 L763.0 289.0 L767.1 289.1 L771.1 289.1 L775.1 289.1 L779.1 289.2 L783.1 289.3 L787.1 289.3 L791.1 289.4 L795.2 289.5 L799.2 289.6 L803.2 289.7 L807.2 289.8 L811.2 289.9 L815.2 289.9 L819.3 290.0 L823.3 290.1 L827.3 290.2 L831.3 290.3 L835.3 290.4 L839.3 290.6 L843.4 290.7 L847.4 290.8 L851.4 290.9 L855.4 291.1 L859.4 291.2 L863.4 291.4 L867.5 291.5 L871.5 291.7 L875.5 291.8 L879.5 292.0" fill="none" stroke="#000" stroke-width="2.2" stroke-linecap="round" stroke-linejoin="round"/>
<path d="M51.2 390.4 L55.3 389.0 L59.4 387.6 L63.4 386.3 L67.5 384.9 L71.6 383.6 L75.6 382.3 L79.7 381.0 L83.8 379.8 L87.8 378.5 L91.9 377.3 L96.0 376.1 L100.0 375.0 L104.1 373.8 L108.2 372.6 L112.2 371.5 L116.3 370.4 L120.4 369.2 L124.4 368.1 L128.5 367.0" fill="none" stroke="#000" stroke-width="0.9" stroke-linecap="round" stroke-linejoin="round"/>
<path d="M128.5 367.0 L132.5 365.9 L136.5 364.7 L140.5 363.6 L144.6 362.5 L148.6 361.4 L152.6 360.2 L156.6 359.1 L160.6 358.0 L164.6 356.9 L168.7 355.8 L172.7 354.7 L176.7 353.7 L180.7 352.6 L184.7 351.6 L188.7 350.6 L192.8 349.7 L196.8 348.7 L200.8 347.7 L204.8 346.8 L208.8 345.9 L212.8 345.0 L216.9 344.1 L220.9 343.2 L224.9 342.4 L228.9 341.5 L232.9 340.7 L236.9 339.9 L240.9 339.1 L245.0 338.3 L249.0 337.6 L253.0 336.9 L257.0 336.2 L261.0 335.5 L265.0 334.8 L269.1 334.2 L273.1 333.5 L277.1 332.9 L281.1 332.3 L285.1 331.7 L289.1 331.0 L293.2 330.4 L297.2 329.8 L301.2 329.2 L305.2 328.6 L309.2 328.0 L313.2 327.4 L317.3 326.8 L321.3 326.2 L325.3 325.6 L329.3 325.1 L333.3 324.5 L337.3 323.9 L341.4 323.4 L345.4 322.8 L349.4 322.3 L353.4 321.7 L357.4 321.2 L361.4 320.7 L365.4 320.2 L369.5 319.6 L373.5 319.1 L377.5 318.6 L381.5 318.1 L385.5 317.6 L389.5 317.2 L393.6 316.7 L397.6 316.2 L401.6 315.8 L405.6 315.4 L409.6 314.9 L413.6 314.5 L417.7 314.1 L421.7 313.7 L425.7 313.3 L429.7 313.0 L433.7 312.6 L437.7 312.2 L441.8 311.9 L445.8 311.5 L449.8 311.2 L453.8 310.8 L457.8 310.5 L461.8 310.2 L465.8 309.9 L469.9 309.6 L473.9 309.3 L477.9 309.0 L481.9 308.7 L485.9 308.5 L489.9 308.2 L494.0 308.0 L498.0 307.8 L502.0 307.5 L506.0 307.3 L510.0 307.1 L514.0 306.9 L518.1 306.6 L522.1 306.4 L526.1 306.2 L530.1 306.0 L534.1 305.7 L538.1 305.5 L542.2 305.3 L546.2 305.0 L550.2 304.8 L554.2 304.6 L558.2 304.4 L562.2 304.2 L566.2 304.0 L570.3 303.8 L574.3 303.7 L578.3 303.5 L582.3 303.3 L586.3 303.2 L590.3 303.1 L594.4 302.9 L598.4 302.8 L602.4 302.7 L606.4 302.5 L610.4 302.4 L614.4 302.3 L618.5 302.2 L622.5 302.0 L626.5 301.9 L630.5 301.8 L634.5 301.6 L638.5 301.5 L642.6 301.4 L646.6 301.3 L650.6 301.1 L654.6 301.0 L658.6 300.9 L662.6 300.9 L666.6 300.8 L670.7 300.7 L674.7 300.7 L678.7 300.6 L682.7 300.6 L686.7 300.6 L690.7 300.6 L694.8 300.6 L698.8 300.6 L702.8 300.6 L706.8 300.6 L710.8 300.6 L714.8 300.6 L718.9 300.6 L722.9 300.6 L726.9 300.6 L730.9 300.6 L734.9 300.6 L738.9 300.6 L743.0 300.7 L747.0 300.7 L751.0 300.7 L755.0 300.7 L759.0 300.8 L763.0 300.8 L767.1 300.8 L771.1 300.9 L775.1 301.0 L779.1 301.0 L783.1 301.1 L787.1 301.2 L791.1 301.3 L795.2 301.4 L799.2 301.5 L803.2 301.6 L807.2 301.7 L811.2 301.8 L815.2 301.9 L819.3 302.0 L823.3 302.1 L827.3 302.2 L831.3 302.3 L835.3 302.4 L839.3 302.5 L843.4 302.7 L847.4 302.8 L851.4 302.9 L855.4 303.1 L859.4 303.2 L863.4 303.4 L867.5 303.5 L871.5 303.7 L875.5 303.8 L879.5 304.0" fill="none" stroke="#000" stroke-width="3.4" stroke-linecap="round" stroke-linejoin="round"/>
<path d="M51.2 390.4 L57.3 390.4 L63.3 390.3 L69.4 390.2 L75.4 390.1 L81.4 390.0 L87.5 389.8 L93.5 389.6 L99.5 389.3 L105.6 389.0 L111.6 388.7 L117.6 388.4 L123.7 388.0 L129.7 387.6 L135.8 387.1 L141.8 386.6 L147.8 386.1 L153.9 385.5 L159.9 384.9 L165.9 384.3 L172.0 383.7 L178.0 383.0 L184.0 382.2 L190.1 381.5 L196.1 380.7 L202.2 379.9 L208.2 379.0 L214.2 378.1 L220.3 377.2 L226.3 376.2 L232.3 375.2 L238.4 374.2 L244.4 373.1 L250.4 372.0 L256.5 370.9 L262.5 369.7 L268.6 368.5 L274.6 367.3 L280.6 366.1 L286.7 364.8 L292.7 363.4 L298.7 362.1 L304.8 360.7 L310.8 359.2 L316.8 357.8 L322.9 356.3 L328.9 354.7 L335.0 353.2 L341.0 351.6 L347.0 349.9 L353.1 348.2 L359.1 346.5 L365.1 344.8 L371.2 343.0 L377.2 341.2 L383.2 339.4 L389.3 337.5 L395.3 335.6 L401.4 333.7 L407.4 331.7 L413.4 329.7 L419.5 327.7 L425.5 325.6 L431.5 323.5 L437.6 321.3 L443.6 319.2 L449.6 317.0 L455.7 314.7 L461.7 312.4 L467.8 310.1 L473.8 307.8 L479.8 305.4 L485.9 303.0 L491.9 300.6 L497.9 298.1 L504.0 295.6 L510.0 293.0 L516.0 290.4 L522.1 287.8 L528.1 285.2 L534.2 282.5 L540.2 279.8 L546.2 277.0 L552.3 274.2 L558.3 271.4 L564.3 268.6 L570.4 265.7 L576.4 262.8 L582.4 259.8 L588.5 256.8 L594.5 253.8 L600.6 250.8 L606.6 247.7 L612.6 244.6 L618.7 241.4 L624.7 238.2 L630.7 235.0 L636.8 231.8 L642.8 228.5 L648.8 225.2 L654.9 221.8 L660.9 218.4 L667.0 215.0 L673.0 211.5 L679.0 208.0 L685.1 204.5 L691.1 201.0 L697.1 197.4 L703.2 193.7 L709.2 190.1 L715.2 186.4 L721.3 182.7 L727.3 178.9 L733.4 175.1 L739.4 171.3 L745.4 167.4 L751.5 163.5 L757.5 159.6" fill="none" stroke="#ff2222" stroke-width="0.85" stroke-linecap="round" stroke-linejoin="round"/>
<circle cx="757.5" cy="159.7" r="6.2" fill="#ff0" stroke="#f00" stroke-width="1.7"/>
<path d="M750.5 159.6H757.5" stroke="#555" stroke-width="1" fill="none"/>
<path d="M751.3 163.5L757.5 159.6" stroke="#ff2020" stroke-width="0.8" fill="none"/>
<path d="M757.5 159.6V390.4" stroke="#000" stroke-width="1.05" fill="none"/>
<circle cx="757.5" cy="289.4" r="6.1" fill="#f00"/>
<circle cx="757.5" cy="300.7" r="6.1" fill="#f00"/>
<text x="412.3" y="61.8">110 %</text>
<text x="384.4" y="115.6">100 %</text>
<rect x="741.5" y="0.4" width="217.6" height="32.2" fill="#fff" stroke="#8e8e8e" stroke-width="1"/>
<text x="747.8" y="19.4" textLength="189.5" lengthAdjust="spacing">NKE 50-160/175, 3*400 V</text>
<path d="M51.3 0.4H741" stroke="#9c9c9c" stroke-width="0.9" fill="none"/>
<path d="M51.3 0V397.6" stroke="#000" stroke-width="2.0" fill="none"/>
<path d="M959.1 0V391.2" stroke="#000" stroke-width="2.3" fill="none"/>
<path d="M51.3 390.6H960.1" stroke="#000" stroke-width="1.6" fill="none"/>
<path d="M44.2 390.40H51.3M44.2 366.02H51.3M44.2 341.64H51.3M44.2 317.26H51.3M44.2 292.88H51.3M44.2 268.50H51.3M44.2 244.12H51.3M44.2 219.74H51.3M44.2 195.36H51.3M44.2 170.98H51.3M44.2 146.60H51.3M44.2 122.22H51.3M44.2 97.84H51.3M44.2 73.46H51.3M44.2 49.08H51.3M959.1 390.40H966.3M959.1 366.02H966.3M959.1 341.64H966.3M959.1 317.26H966.3M959.1 292.88H966.3M959.1 268.50H966.3M128.3 390.4V397.6M205.4 390.4V397.6M282.5 390.4V397.6M359.5 390.4V397.6M436.6 390.4V397.6M513.7 390.4V397.6M590.7 390.4V397.6M667.8 390.4V397.6M744.9 390.4V397.6M821.9 390.4V397.6M899.0 390.4V397.6" stroke="#000" stroke-width="1.75" fill="none"/>
<text x="38.3" y="395.3" text-anchor="end">0</text>
<text x="38.3" y="370.9" text-anchor="end">1</text>
<text x="38.3" y="346.5" text-anchor="end">2</text>
<text x="38.3" y="322.2" text-anchor="end">3</text>
<text x="38.3" y="297.8" text-anchor="end">4</text>
<text x="38.3" y="273.4" text-anchor="end">5</text>
<text x="38.3" y="249.0" text-anchor="end">6</text>
<text x="38.3" y="224.6" text-anchor="end">7</text>
<text x="38.3" y="200.3" text-anchor="end">8</text>
<text x="38.3" y="175.9" text-anchor="end">9</text>
<text x="38.3" y="151.5" text-anchor="end">10</text>
<text x="38.3" y="127.1" text-anchor="end">11</text>
<text x="38.3" y="102.7" text-anchor="end">12</text>
<text x="38.3" y="78.4" text-anchor="end">13</text>
<text x="971.0" y="395.3">0</text>
<text x="971.0" y="370.9">20</text>
<text x="971.0" y="346.5">40</text>
<text x="971.0" y="322.2">60</text>
<text x="971.0" y="297.8">80</text>
<text x="971.0" y="273.4">100</text>
<text x="50.6" y="412.7" text-anchor="middle">0</text>
<text x="127.7" y="412.7" text-anchor="middle">5</text>
<text x="204.8" y="412.7" text-anchor="middle">10</text>
<text x="281.9" y="412.7" text-anchor="middle">15</text>
<text x="358.9" y="412.7" text-anchor="middle">20</text>
<text x="436.0" y="412.7" text-anchor="middle">25</text>
<text x="513.1" y="412.7" text-anchor="middle">30</text>
<text x="590.1" y="412.7" text-anchor="middle">35</text>
<text x="667.2" y="412.7" text-anchor="middle">40</text>
<text x="744.3" y="412.7" text-anchor="middle">45</text>
<text x="821.3" y="412.7" text-anchor="middle">50</text>
<text x="888.8" y="412.7" textLength="60.4" lengthAdjust="spacing">Q [m³/h]</text>
<text x="30.4" y="14.8" text-anchor="middle">H</text>
<text x="30.3" y="34.9" text-anchor="middle">[m]</text>
<text x="980.8" y="14.9" text-anchor="middle">eta</text>
<text x="980.8" y="35" text-anchor="middle">[%]</text>
<path d="M51.3 687.7H959.4" stroke="#555" stroke-width="1" fill="none"/>
<path d="M51.2 687.2 L55.9 687.2 L60.6 687.2 L65.3 687.2 L69.9 687.2 L74.6 687.2" fill="none" stroke="#000" stroke-width="0.8" stroke-linecap="round" stroke-linejoin="round"/>
<path d="M51.2 685.6 L55.9 685.6 L60.6 685.6 L65.3 685.6 L69.9 685.6 L74.6 685.6" fill="none" stroke="#0c4887" stroke-width="0.8" stroke-linecap="round" stroke-linejoin="round"/>
<path d="M74.6 685.3 L78.7 685.3 L82.7 685.2 L86.8 685.2 L90.8 685.1 L94.9 685.1 L99.0 685.0 L103.0 685.0 L107.1 684.9 L111.1 684.9 L115.2 684.8 L119.2 684.8 L123.3 684.7 L127.4 684.7 L131.4 684.7 L135.5 684.6 L139.5 684.6 L143.6 684.5 L147.7 684.5 L151.7 684.4 L155.8 684.4 L159.8 684.3 L163.9 684.3 L167.9 684.2 L172.0 684.2 L176.1 684.1 L180.1 684.1 L184.2 684.1 L188.2 684.0 L192.3 684.0 L196.4 683.9 L200.4 683.9 L204.5 683.8 L208.5 683.8 L212.6 683.7 L216.6 683.7 L220.7 683.6 L224.8 683.6 L228.8 683.5 L232.9 683.5 L236.9 683.5 L241.0 683.4 L245.1 683.4 L249.1 683.3 L253.2 683.3 L257.2 683.2 L261.3 683.2 L265.3 683.1 L269.4 683.1 L273.5 683.0 L277.5 683.0 L281.6 682.9 L285.6 682.9 L289.7 682.9 L293.8 682.8 L297.8 682.8 L301.9 682.7 L305.9 682.7 L310.0 682.6 L314.0 682.6 L318.1 682.5 L322.2 682.5 L326.2 682.4 L330.3 682.4 L334.3 682.3 L338.4 682.3" fill="none" stroke="#0c4887" stroke-width="2.2" stroke-linecap="round" stroke-linejoin="round"/>
<path d="M74.6 687.2 L78.7 687.1 L82.7 687.1 L86.8 687.0 L90.8 687.0 L94.9 686.9 L99.0 686.8 L103.0 686.8 L107.1 686.7 L111.1 686.6 L115.2 686.6 L119.2 686.5 L123.3 686.5 L127.4 686.4 L131.4 686.3 L135.5 686.3 L139.5 686.2 L143.6 686.2 L147.7 686.1 L151.7 686.0 L155.8 686.0 L159.8 685.9 L163.9 685.8 L167.9 685.8 L172.0 685.7 L176.1 685.7 L180.1 685.6 L184.2 685.5 L188.2 685.5 L192.3 685.4 L196.4 685.4 L200.4 685.3 L204.5 685.2 L208.5 685.2 L212.6 685.1 L216.6 685.0 L220.7 685.0 L224.8 684.9 L228.8 684.9 L232.9 684.8 L236.9 684.7 L241.0 684.7 L245.1 684.6 L249.1 684.6 L253.2 684.5 L257.2 684.4 L261.3 684.4 L265.3 684.3 L269.4 684.2 L273.5 684.2 L277.5 684.1 L281.6 684.1 L285.6 684.0 L289.7 683.9 L293.8 683.9 L297.8 683.8 L301.9 683.8 L305.9 683.7 L310.0 683.6 L314.0 683.6 L318.1 683.5 L322.2 683.4 L326.2 683.4 L330.3 683.3 L334.3 683.3 L338.4 683.2" fill="none" stroke="#000" stroke-width="2.2" stroke-linecap="round" stroke-linejoin="round"/>
<path d="M51.2 635.5 L55.3 635.3 L59.3 635.0 L63.3 634.7 L67.3 634.5 L71.3 634.2 L75.3 633.9 L79.3 633.6 L83.3 633.3 L87.3 633.0 L91.3 632.7 L95.3 632.4 L99.3 632.1 L103.3 631.8 L107.3 631.5 L111.3 631.2 L115.3 630.9 L119.3 630.6 L123.3 630.2 L127.3 629.9 L131.3 629.6 L135.3 629.2 L139.3 628.9 L143.3 628.5 L147.3 628.2 L151.3 627.8 L155.3 627.4 L159.3 627.0 L163.3 626.6 L167.3 626.3 L171.3 625.9 L175.3 625.5 L179.3 625.1 L183.3 624.7 L187.3 624.3 L191.3 623.9 L195.3 623.5 L199.3 623.1 L203.3 622.8 L207.3 622.4 L211.3 622.0 L215.3 621.6 L219.3 621.2 L223.3 620.9 L227.3 620.5 L231.3 620.1 L235.3 619.7 L239.3 619.4 L243.3 619.0 L247.3 618.6 L251.3 618.2 L255.3 617.8 L259.3 617.5 L263.3 617.1 L267.3 616.7 L271.3 616.3 L275.3 616.0 L279.3 615.6 L283.3 615.2 L287.3 614.8 L291.3 614.4 L295.3 614.1 L299.3 613.7 L303.3 613.3 L307.3 612.9 L311.3 612.5 L315.3 612.2 L319.3 611.8 L323.3 611.4 L327.3 611.0 L331.3 610.6 L335.3 610.3 L339.3 609.9 L343.3 609.5 L347.3 609.1 L351.3 608.7 L355.3 608.4 L359.3 608.0 L363.3 607.6 L367.3 607.2 L371.3 606.8 L375.3 606.4 L379.3 606.0 L383.4 605.7 L387.4 605.3 L391.4 604.9 L395.4 604.5 L399.4 604.1 L403.4 603.7 L407.4 603.3 L411.4 602.9 L415.4 602.5 L419.4 602.1 L423.4 601.7 L427.4 601.4 L431.4 601.0 L435.4 600.6 L439.4 600.2 L443.4 599.8 L447.4 599.4 L451.4 599.0 L455.4 598.6 L459.4 598.2 L463.4 597.8 L467.4 597.4 L471.4 596.9 L475.4 596.5 L479.4 596.1 L483.4 595.7 L487.4 595.3 L491.4 594.9 L495.4 594.5 L499.4 594.1 L503.4 593.6 L507.4 593.2 L511.4 592.8 L515.4 592.4 L519.4 592.0 L523.4 591.6 L527.4 591.1 L531.4 590.7 L535.4 590.3 L539.4 589.9 L543.4 589.4 L547.4 589.0 L551.4 588.6 L555.4 588.2 L559.4 587.7 L563.4 587.5 L567.4 587.5 L571.4 587.5 L575.4 587.5 L579.4 587.5 L583.4 587.5 L587.4 587.5 L591.4 587.5 L595.4 587.5 L599.4 587.5 L603.4 587.5 L607.4 587.5 L611.4 587.5 L615.4 587.5 L619.4 587.5 L623.4 587.5 L627.4 587.5 L631.4 587.5 L635.4 587.5 L639.4 587.5 L643.4 587.5 L647.4 587.5 L651.4 587.5 L655.4 587.5 L659.4 587.5 L663.4 587.5 L667.4 587.5 L671.4 587.5 L675.4 587.5 L679.4 587.5 L683.4 587.5 L687.4 587.5 L691.4 587.5 L695.4 587.5 L699.4 587.5 L703.4 587.5 L707.4 587.5 L711.4 587.5 L715.5 587.5 L719.5 587.5 L723.5 587.5 L727.5 587.5 L731.5 587.5 L735.5 587.5 L739.5 587.5 L743.5 587.5 L747.5 587.5 L751.5 587.5 L755.5 587.5 L759.5 587.5 L763.5 587.5 L767.5 587.5 L771.5 587.5 L775.5 587.5 L779.5 587.5 L783.5 587.5 L787.5 587.5 L791.5 587.5 L795.5 587.5 L799.5 587.5 L803.5 587.5 L807.5 587.5 L811.5 587.5 L815.5 587.5 L819.5 587.5 L823.5 587.5 L827.5 587.5 L831.5 587.5 L835.5 587.5 L839.5 587.5 L843.5 587.5 L847.5 587.5 L851.5 587.5 L855.5 587.5 L859.5 587.5 L863.5 587.5 L867.5 587.5 L871.5 587.5 L875.5 587.5 L879.5 587.5" fill="none" stroke="#0c4887" stroke-width="1.15" stroke-linecap="round" stroke-linejoin="round"/>
<path d="M879.5 587.5 L879.5 587.5" fill="none" stroke="#0c4887" stroke-width="1.15" stroke-linecap="round" stroke-linejoin="round"/>
<path d="M51.2 629.8 L55.3 629.5 L59.4 629.2 L63.5 628.9 L67.6 628.6 L71.7 628.2 L75.8 627.9 L79.9 627.6 L84.0 627.2 L88.1 626.9 L92.2 626.5 L96.3 626.2 L100.4 625.8 L104.5 625.5 L108.5 625.1 L112.6 624.7 L116.7 624.4 L120.8 624.0 L124.9 623.6 L129.0 623.3 L133.1 622.9 L137.2 622.5" fill="none" stroke="#0c4887" stroke-width="0.9" stroke-linecap="round" stroke-linejoin="round"/>
<path d="M137.2 622.5 L141.2 622.1 L145.2 621.7 L149.2 621.3 L153.2 620.9 L157.3 620.5 L161.3 620.1 L165.3 619.6 L169.3 619.2 L173.3 618.8 L177.3 618.4 L181.3 617.9 L185.3 617.5 L189.4 617.1 L193.4 616.6 L197.4 616.2 L201.4 615.8 L205.4 615.4 L209.4 614.9 L213.4 614.5 L217.4 614.1 L221.5 613.6 L225.5 613.2 L229.5 612.8 L233.5 612.3 L237.5 611.9 L241.5 611.4 L245.5 611.0 L249.5 610.6 L253.6 610.1 L257.6 609.7 L261.6 609.3 L265.6 608.8 L269.6 608.4 L273.6 607.9 L277.6 607.5 L281.6 607.0 L285.7 606.6 L289.7 606.1 L293.7 605.7 L297.7 605.2 L301.7 604.8 L305.7 604.3 L309.7 603.9 L313.7 603.4 L317.8 603.0 L321.8 602.5 L325.8 602.1 L329.8 601.6 L333.8 601.2 L337.8 600.7 L341.8 600.3 L345.8 599.8 L349.9 599.3 L353.9 598.9 L357.9 598.4 L361.9 598.0 L365.9 597.5 L369.9 597.0 L373.9 596.6 L377.9 596.1 L382.0 595.6 L386.0 595.2 L390.0 594.7 L394.0 594.2 L398.0 593.8 L402.0 593.3 L406.0 592.8 L410.0 592.3 L414.1 591.9 L418.1 591.4 L422.1 590.9 L426.1 590.4 L430.1 590.0 L434.1 589.5 L438.1 589.0 L442.1 588.5 L446.2 588.1 L450.2 587.6 L454.2 587.1 L458.2 586.6 L462.2 586.1 L466.2 585.6 L470.2 585.2 L474.2 584.7 L478.3 584.2 L482.3 583.7 L486.3 583.2 L490.3 582.7 L494.3 582.2 L498.3 581.7 L502.3 581.2 L506.3 580.7 L510.4 580.2 L514.4 579.7 L518.4 579.2 L522.4 578.6 L526.4 578.1 L530.4 577.6 L534.4 577.1 L538.4 576.6 L542.5 576.1 L546.5 575.6 L550.5 575.0 L554.5 574.5 L558.5 574.0 L562.5 573.6 L566.5 573.6 L570.5 573.7 L574.6 573.7 L578.6 573.8 L582.6 573.8 L586.6 573.8 L590.6 573.9 L594.6 573.9 L598.6 574.0 L602.6 574.0 L606.7 574.0 L610.7 574.0 L614.7 574.0 L618.7 574.0 L622.7 574.0 L626.7 574.0 L630.7 574.0 L634.7 574.0 L638.8 574.0 L642.8 574.0 L646.8 574.0 L650.8 574.0 L654.8 574.0 L658.8 574.0 L662.8 574.0 L666.8 574.0 L670.9 574.0 L674.9 574.0 L678.9 574.0 L682.9 574.0 L686.9 574.0 L690.9 574.0 L694.9 574.0 L698.9 574.0 L703.0 574.0 L707.0 574.0 L711.0 574.0 L715.0 574.0 L719.0 574.0 L723.0 574.0 L727.0 574.0 L731.0 574.0 L735.1 574.0 L739.1 574.0 L743.1 574.0 L747.1 574.0 L751.1 574.0 L755.1 574.0 L759.1 574.0 L763.1 574.0 L767.2 574.0 L771.2 574.0 L775.2 574.0 L779.2 574.0 L783.2 574.0 L787.2 574.0 L791.2 574.0 L795.2 574.0 L799.3 574.0 L803.3 574.0 L807.3 574.0 L811.3 574.0 L815.3 574.0 L819.3 574.0 L823.3 574.0 L827.3 574.0 L831.4 574.0 L835.4 574.0 L839.4 574.0 L843.4 574.0 L847.4 574.0 L851.4 574.0 L855.4 574.0 L859.4 574.0 L863.5 574.0 L867.5 574.0 L871.5 574.0 L875.5 574.0 L879.5 574.0" fill="none" stroke="#0c4887" stroke-width="2.1" stroke-linecap="round" stroke-linejoin="round"/>
<path d="M51.2 648.6 L55.3 648.3 L59.4 648.1 L63.4 647.8 L67.5 647.5 L71.6 647.2 L75.6 646.9 L79.7 646.6 L83.8 646.3 L87.8 646.1 L91.9 645.8 L96.0 645.5 L100.0 645.2 L104.1 644.9 L108.2 644.6 L112.2 644.3 L116.3 644.0 L120.4 643.7 L124.4 643.4 L128.5 643.1" fill="none" stroke="#0c4887" stroke-width="0.9" stroke-linecap="round" stroke-linejoin="round"/>
<path d="M128.5 643.1 L132.5 642.8 L136.5 642.5 L140.5 642.2 L144.6 641.9 L148.6 641.6 L152.6 641.3 L156.6 641.0 L160.6 640.7 L164.6 640.4 L168.7 640.1 L172.7 639.7 L176.7 639.4 L180.7 639.1 L184.7 638.8 L188.7 638.5 L192.8 638.2 L196.8 637.9 L200.8 637.5 L204.8 637.2 L208.8 636.9 L212.8 636.6 L216.9 636.3 L220.9 635.9 L224.9 635.6 L228.9 635.3 L232.9 635.0 L236.9 634.6 L240.9 634.3 L245.0 634.0 L249.0 633.6 L253.0 633.3 L257.0 633.0 L261.0 632.7 L265.0 632.3 L269.1 632.0 L273.1 631.7 L277.1 631.3 L281.1 631.0 L285.1 630.7 L289.1 630.3 L293.2 630.0 L297.2 629.7 L301.2 629.3 L305.2 629.0 L309.2 628.7 L313.2 628.3 L317.3 628.0 L321.3 627.6 L325.3 627.3 L329.3 627.0 L333.3 626.6 L337.3 626.3 L341.4 626.0 L345.4 625.6 L349.4 625.3 L353.4 624.9 L357.4 624.6 L361.4 624.3 L365.4 623.9 L369.5 623.6 L373.5 623.2 L377.5 622.9 L381.5 622.6 L385.5 622.2 L389.5 621.9 L393.6 621.5 L397.6 621.2 L401.6 620.9 L405.6 620.5 L409.6 620.2 L413.6 619.9 L417.7 619.5 L421.7 619.2 L425.7 618.8 L429.7 618.5 L433.7 618.2 L437.7 617.8 L441.8 617.5 L445.8 617.2 L449.8 616.8 L453.8 616.5 L457.8 616.2 L461.8 615.8 L465.8 615.5 L469.9 615.2 L473.9 614.8 L477.9 614.5 L481.9 614.2 L485.9 613.8 L489.9 613.5 L494.0 613.1 L498.0 612.8 L502.0 612.5 L506.0 612.1 L510.0 611.8 L514.0 611.5 L518.1 611.1 L522.1 610.8 L526.1 610.5 L530.1 610.1 L534.1 609.8 L538.1 609.5 L542.2 609.2 L546.2 608.8 L550.2 608.5 L554.2 608.2 L558.2 607.8 L562.2 607.5 L566.2 607.2 L570.3 606.9 L574.3 606.5 L578.3 606.2 L582.3 605.9 L586.3 605.6 L590.3 605.3 L594.4 604.9 L598.4 604.6 L602.4 604.3 L606.4 604.0 L610.4 603.6 L614.4 603.3 L618.5 603.0 L622.5 602.7 L626.5 602.4 L630.5 602.0 L634.5 601.7 L638.5 601.4 L642.6 601.1 L646.6 600.8 L650.6 600.5 L654.6 600.1 L658.6 599.8 L662.6 599.5 L666.6 599.2 L670.7 598.9 L674.7 598.6 L678.7 598.3 L682.7 598.0 L686.7 597.7 L690.7 597.4 L694.8 597.1 L698.8 596.8 L702.8 596.5 L706.8 596.2 L710.8 595.9 L714.8 595.6 L718.9 595.3 L722.9 595.0 L726.9 594.7 L730.9 594.4 L734.9 594.2 L738.9 593.9 L743.0 593.6 L747.0 593.3 L751.0 593.1 L755.0 592.8 L759.0 592.5 L763.0 592.1 L767.1 591.8 L771.1 591.4 L775.1 591.0 L779.1 590.6 L783.1 590.1 L787.1 589.7 L791.1 589.3 L795.2 588.9 L799.2 588.6 L803.2 588.3 L807.2 588.0 L811.2 587.8 L815.2 587.7 L819.3 587.6 L823.3 587.6 L827.3 587.6 L831.3 587.6 L835.3 587.6 L839.3 587.6 L843.4 587.6 L847.4 587.6 L851.4 587.6 L855.4 587.6 L859.4 587.7 L863.4 587.7 L867.5 587.7 L871.5 587.7 L875.5 587.8 L879.5 587.8" fill="none" stroke="#0c4887" stroke-width="2.1" stroke-linecap="round" stroke-linejoin="round"/>
<path d="M51.2 643.6 L55.3 643.3 L59.4 643.1 L63.4 642.8 L67.5 642.5 L71.6 642.2 L75.6 642.0 L79.7 641.7 L83.8 641.4 L87.8 641.1 L91.9 640.8 L96.0 640.5 L100.0 640.2 L104.1 639.9 L108.2 639.6 L112.2 639.3 L116.3 639.0 L120.4 638.7 L124.4 638.4 L128.5 638.1" fill="none" stroke="#0c4887" stroke-width="0.9" stroke-linecap="round" stroke-linejoin="round"/>
<path d="M128.5 638.1 L132.5 637.8 L136.5 637.5 L140.5 637.2 L144.6 636.9 L148.6 636.5 L152.6 636.2 L156.6 635.9 L160.6 635.6 L164.6 635.3 L168.7 634.9 L172.7 634.6 L176.7 634.3 L180.7 633.9 L184.7 633.6 L188.7 633.3 L192.8 632.9 L196.8 632.6 L200.8 632.3 L204.8 631.9 L208.8 631.6 L212.8 631.2 L216.9 630.9 L220.9 630.5 L224.9 630.2 L228.9 629.8 L232.9 629.5 L236.9 629.2 L240.9 628.8 L245.0 628.5 L249.0 628.1 L253.0 627.7 L257.0 627.4 L261.0 627.0 L265.0 626.7 L269.1 626.3 L273.1 626.0 L277.1 625.6 L281.1 625.3 L285.1 624.9 L289.1 624.5 L293.2 624.2 L297.2 623.8 L301.2 623.5 L305.2 623.1 L309.2 622.7 L313.2 622.4 L317.3 622.0 L321.3 621.6 L325.3 621.3 L329.3 620.9 L333.3 620.5 L337.3 620.2 L341.4 619.8 L345.4 619.4 L349.4 619.0 L353.4 618.7 L357.4 618.3 L361.4 617.9 L365.4 617.5 L369.5 617.2 L373.5 616.8 L377.5 616.4 L381.5 616.0 L385.5 615.7 L389.5 615.3 L393.6 614.9 L397.6 614.5 L401.6 614.1 L405.6 613.8 L409.6 613.4 L413.6 613.0 L417.7 612.6 L421.7 612.2 L425.7 611.8 L429.7 611.4 L433.7 611.1 L437.7 610.7 L441.8 610.3 L445.8 609.9 L449.8 609.5 L453.8 609.1 L457.8 608.7 L461.8 608.3 L465.8 607.9 L469.9 607.5 L473.9 607.1 L477.9 606.7 L481.9 606.3 L485.9 605.9 L489.9 605.5 L494.0 605.1 L498.0 604.6 L502.0 604.2 L506.0 603.8 L510.0 603.4 L514.0 603.0 L518.1 602.6 L522.1 602.1 L526.1 601.7 L530.1 601.3 L534.1 600.9 L538.1 600.5 L542.2 600.1 L546.2 599.7 L550.2 599.3 L554.2 598.9 L558.2 598.5 L562.2 598.1 L566.2 597.7 L570.3 597.3 L574.3 596.9 L578.3 596.5 L582.3 596.1 L586.3 595.8 L590.3 595.4 L594.4 595.0 L598.4 594.6 L602.4 594.3 L606.4 593.9 L610.4 593.5 L614.4 593.1 L618.5 592.8 L622.5 592.4 L626.5 592.0 L630.5 591.6 L634.5 591.3 L638.5 590.9 L642.6 590.5 L646.6 590.2 L650.6 589.8 L654.6 589.4 L658.6 589.1 L662.6 588.7 L666.6 588.3 L670.7 588.0 L674.7 587.6 L678.7 587.2 L682.7 586.9 L686.7 586.5 L690.7 586.1 L694.8 585.7 L698.8 585.4 L702.8 585.0 L706.8 584.6 L710.8 584.3 L714.8 583.9 L718.9 583.5 L722.9 583.1 L726.9 582.7 L730.9 582.4 L734.9 582.0 L738.9 581.6 L743.0 581.2 L747.0 580.8 L751.0 580.5 L755.0 580.1 L759.0 579.7 L763.0 579.4 L767.1 579.0 L771.1 578.7 L775.1 578.3 L779.1 578.0 L783.1 577.6 L787.1 577.3 L791.1 577.0 L795.2 576.7 L799.2 576.4 L803.2 576.1 L807.2 575.7 L811.2 575.4 L815.2 575.1 L819.3 574.8 L823.3 574.6 L827.3 574.5 L831.3 574.4 L835.3 574.3 L839.3 574.3 L843.4 574.3 L847.4 574.3 L851.4 574.3 L855.4 574.3 L859.4 574.3 L863.4 574.3 L867.5 574.3 L871.5 574.3 L875.5 574.4 L879.5 574.4" fill="none" stroke="#0c4887" stroke-width="3.5" stroke-linecap="round" stroke-linejoin="round"/>
<path d="M51.2 674.0 L55.3 674.0 L59.4 674.0 L63.5 674.0 L67.6 674.0 L71.7 674.0 L75.8 674.0 L79.9 674.0 L84.0 674.0 L88.1 674.0 L92.2 674.0 L96.3 674.0 L100.4 674.0 L104.5 674.0 L108.5 674.0 L112.6 674.0 L116.7 674.0 L120.8 674.0 L124.9 674.0 L129.0 674.0 L133.1 674.0 L137.2 674.0" fill="none" stroke="#000" stroke-width="0.8" stroke-linecap="round" stroke-linejoin="round"/>
<path d="M137.2 674.0 L141.2 674.0 L145.2 674.0 L149.2 674.0 L153.2 674.0 L157.3 674.0 L161.3 674.0 L165.3 673.9 L169.3 673.9 L173.3 673.9 L177.3 673.8 L181.3 673.8 L185.3 673.8 L189.4 673.7 L193.4 673.7 L197.4 673.7 L201.4 673.7 L205.4 673.6 L209.4 673.6 L213.4 673.6 L217.4 673.5 L221.5 673.5 L225.5 673.5 L229.5 673.4 L233.5 673.4 L237.5 673.4 L241.5 673.3 L245.5 673.3 L249.5 673.3 L253.6 673.2 L257.6 673.2 L261.6 673.2 L265.6 673.1 L269.6 673.1 L273.6 673.1 L277.6 673.0 L281.6 673.0 L285.7 672.9 L289.7 672.9 L293.7 672.9 L297.7 672.8 L301.7 672.8 L305.7 672.7 L309.7 672.7 L313.7 672.6 L317.8 672.6 L321.8 672.6 L325.8 672.5 L329.8 672.5 L333.8 672.4 L337.8 672.4 L341.8 672.3 L345.8 672.3 L349.9 672.2 L353.9 672.1 L357.9 672.1 L361.9 672.0 L365.9 672.0 L369.9 671.9 L373.9 671.8 L377.9 671.8 L382.0 671.7 L386.0 671.6 L390.0 671.6 L394.0 671.5 L398.0 671.4 L402.0 671.3 L406.0 671.3 L410.0 671.2 L414.1 671.1 L418.1 671.0 L422.1 670.9 L426.1 670.8 L430.1 670.7 L434.1 670.6 L438.1 670.5 L442.1 670.4 L446.2 670.3 L450.2 670.2 L454.2 670.1 L458.2 670.0 L462.2 669.9 L466.2 669.8 L470.2 669.7 L474.2 669.6 L478.3 669.5 L482.3 669.3 L486.3 669.2 L490.3 669.1 L494.3 669.0 L498.3 668.9 L502.3 668.7 L506.3 668.6 L510.4 668.5 L514.4 668.3 L518.4 668.2 L522.4 668.0 L526.4 667.9 L530.4 667.7 L534.4 667.5 L538.4 667.4 L542.5 667.2 L546.5 667.0 L550.5 666.9 L554.5 666.7 L558.5 666.5 L562.5 666.3 L566.5 666.2 L570.5 666.0 L574.6 665.8 L578.6 665.7 L582.6 665.5 L586.6 665.3 L590.6 665.1 L594.6 664.9 L598.6 664.7 L602.6 664.6 L606.7 664.4 L610.7 664.2 L614.7 664.0 L618.7 663.8 L622.7 663.6 L626.7 663.4 L630.7 663.2 L634.7 662.9 L638.8 662.7 L642.8 662.5 L646.8 662.2 L650.8 662.0 L654.8 661.7 L658.8 661.5 L662.8 661.2 L666.8 660.9 L670.9 660.7 L674.9 660.4 L678.9 660.1 L682.9 659.8 L686.9 659.5 L690.9 659.3 L694.9 659.0 L698.9 658.7 L703.0 658.4 L707.0 658.1 L711.0 657.8 L715.0 657.5 L719.0 657.2 L723.0 656.9 L727.0 656.6 L731.0 656.2 L735.1 655.9 L739.1 655.6 L743.1 655.3 L747.1 655.0 L751.1 654.6 L755.1 654.3 L759.1 654.0 L763.1 653.6 L767.2 653.2 L771.2 652.9 L775.2 652.5 L779.2 652.1 L783.2 651.7 L787.2 651.3 L791.2 650.9 L795.2 650.5 L799.3 650.1 L803.3 649.7 L807.3 649.2 L811.3 648.8 L815.3 648.3 L819.3 647.9 L823.3 647.4 L827.3 647.0 L831.4 646.5 L835.4 646.1 L839.4 645.6 L843.4 645.1 L847.4 644.6 L851.4 644.1 L855.4 643.7 L859.4 643.2 L863.5 642.7 L867.5 642.1 L871.5 641.6 L875.5 641.1 L879.5 640.6" fill="none" stroke="#000" stroke-width="2.2" stroke-linecap="round" stroke-linejoin="round"/>
<path d="M51.2 676.4 L55.3 676.4 L59.4 676.4 L63.4 676.4 L67.5 676.4 L71.6 676.4 L75.6 676.4 L79.7 676.4 L83.8 676.4 L87.8 676.4 L91.9 676.4 L96.0 676.4 L100.0 676.4 L104.1 676.4 L108.2 676.4 L112.2 676.4 L116.3 676.4 L120.4 676.4 L124.4 676.4 L128.5 676.4" fill="none" stroke="#000" stroke-width="1.0" stroke-linecap="round" stroke-linejoin="round"/>
<path d="M128.5 676.4 L132.5 676.4 L136.5 676.4 L140.5 676.4 L144.6 676.4 L148.6 676.4 L152.6 676.3 L156.6 676.3 L160.6 676.3 L164.6 676.3 L168.7 676.2 L172.7 676.2 L176.7 676.2 L180.7 676.1 L184.7 676.1 L188.7 676.1 L192.8 676.1 L196.8 676.0 L200.8 676.0 L204.8 676.0 L208.8 675.9 L212.8 675.9 L216.9 675.9 L220.9 675.9 L224.9 675.8 L228.9 675.8 L232.9 675.8 L236.9 675.7 L240.9 675.7 L245.0 675.7 L249.0 675.6 L253.0 675.6 L257.0 675.6 L261.0 675.5 L265.0 675.5 L269.1 675.5 L273.1 675.4 L277.1 675.4 L281.1 675.3 L285.1 675.3 L289.1 675.3 L293.2 675.2 L297.2 675.2 L301.2 675.1 L305.2 675.1 L309.2 675.1 L313.2 675.0 L317.3 675.0 L321.3 674.9 L325.3 674.9 L329.3 674.8 L333.3 674.8 L337.3 674.7 L341.4 674.6 L345.4 674.6 L349.4 674.5 L353.4 674.5 L357.4 674.4 L361.4 674.3 L365.4 674.3 L369.5 674.2 L373.5 674.1 L377.5 674.0 L381.5 674.0 L385.5 673.9 L389.5 673.8 L393.6 673.7 L397.6 673.6 L401.6 673.5 L405.6 673.4 L409.6 673.4 L413.6 673.3 L417.7 673.2 L421.7 673.1 L425.7 673.0 L429.7 672.9 L433.7 672.8 L437.7 672.7 L441.8 672.6 L445.8 672.5 L449.8 672.3 L453.8 672.2 L457.8 672.1 L461.8 672.0 L465.8 671.9 L469.9 671.8 L473.9 671.6 L477.9 671.5 L481.9 671.4 L485.9 671.2 L489.9 671.1 L494.0 670.9 L498.0 670.8 L502.0 670.6 L506.0 670.4 L510.0 670.3 L514.0 670.1 L518.1 669.9 L522.1 669.8 L526.1 669.6 L530.1 669.4 L534.1 669.2 L538.1 669.1 L542.2 668.9 L546.2 668.7 L550.2 668.5 L554.2 668.3 L558.2 668.1 L562.2 667.9 L566.2 667.7 L570.3 667.5 L574.3 667.3 L578.3 667.1 L582.3 666.9 L586.3 666.7 L590.3 666.4 L594.4 666.2 L598.4 666.0 L602.4 665.8 L606.4 665.5 L610.4 665.3 L614.4 665.0 L618.5 664.8 L622.5 664.5 L626.5 664.3 L630.5 664.0 L634.5 663.7 L638.5 663.5 L642.6 663.2 L646.6 662.9 L650.6 662.6 L654.6 662.3 L658.6 662.0 L662.6 661.8 L666.6 661.5 L670.7 661.2 L674.7 660.9 L678.7 660.6 L682.7 660.3 L686.7 660.0 L690.7 659.7 L694.8 659.4 L698.8 659.1 L702.8 658.8 L706.8 658.4 L710.8 658.1 L714.8 657.8 L718.9 657.5 L722.9 657.2 L726.9 656.9 L730.9 656.5 L734.9 656.2 L738.9 655.8 L743.0 655.5 L747.0 655.1 L751.0 654.8 L755.0 654.4 L759.0 654.0 L763.0 653.7 L767.1 653.3 L771.1 652.9 L775.1 652.5 L779.1 652.1 L783.1 651.7 L787.1 651.3 L791.1 650.9 L795.2 650.5 L799.2 650.1 L803.2 649.6 L807.2 649.2 L811.2 648.8 L815.2 648.3 L819.3 647.9 L823.3 647.4 L827.3 647.0 L831.3 646.5 L835.3 646.1 L839.3 645.6 L843.4 645.1 L847.4 644.6 L851.4 644.1 L855.4 643.7 L859.4 643.2 L863.4 642.7 L867.5 642.1 L871.5 641.6 L875.5 641.1 L879.5 640.6" fill="none" stroke="#000" stroke-width="3.2" stroke-linecap="round" stroke-linejoin="round"/>
<circle cx="757.5" cy="579.9" r="6.1" fill="#f00"/>
<circle cx="757.5" cy="592.7" r="6.1" fill="#f00"/>
<circle cx="757.5" cy="654.4" r="6.1" fill="#f00"/>
<text x="751.6" y="564.3" fill="#0c4887" textLength="194.6" lengthAdjust="spacing">P1 (motor+freq.converter)</text>
<text x="865.9" y="602.8" fill="#0c4887">P2</text>
<path d="M50.3 520.3H960.1" stroke="#000" stroke-width="1.1" fill="none"/>
<path d="M51.3 520.3V688.2" stroke="#000" stroke-width="2.0" fill="none"/>
<path d="M959.1 520.3V688.2" stroke="#000" stroke-width="2.3" fill="none"/>
<path d="M44.2 687.70H51.3M959.1 687.70H966.3M44.2 654.20H51.3M959.1 654.20H966.3M44.2 620.70H51.3M959.1 620.70H966.3M44.2 587.20H51.3M959.1 587.20H966.3M44.2 553.70H51.3M959.1 553.70H966.3" stroke="#000" stroke-width="1.75" fill="none"/>
<text x="38.3" y="692.6" text-anchor="end">0.0</text>
<text x="971.0" y="692.6">0</text>
<text x="38.3" y="659.1" text-anchor="end">0.5</text>
<text x="971.0" y="659.1">2</text>
<text x="38.3" y="625.6" text-anchor="end">1.0</text>
<text x="971.0" y="625.6">4</text>
<text x="38.3" y="592.1" text-anchor="end">1.5</text>
<text x="971.0" y="592.1">6</text>
<text x="24.9" y="534.2" text-anchor="middle">P</text>
<text x="8.4" y="555.6" textLength="32.7" lengthAdjust="spacing">[kW]</text>
<text x="990.6" y="534.9" text-anchor="middle">NPSH</text>
<text x="990.4" y="554.8" text-anchor="middle">[m]</text>
<text x="54.6" y="446.0" textLength="112.0" lengthAdjust="spacing">Q = 45.82 m³/h</text>
<text x="54.6" y="467.0" textLength="159.5" lengthAdjust="spacing">n = 100 % / 1468 rpm</text>
<text x="54.6" y="489.0" textLength="329.6" lengthAdjust="spacing">Liquid temperature during operation = 20 °C</text>
<text x="54.6" y="509.5" textLength="141.7" lengthAdjust="spacing">Eta pump = 82.9 %</text>
<text x="440.0" y="446.0" textLength="90.8" lengthAdjust="spacing">H = 9.456 m</text>
<text x="440.0" y="467.0" textLength="169.9" lengthAdjust="spacing">Pumped liquid = Water</text>
<text x="440.0" y="489.0" textLength="165.3" lengthAdjust="spacing">Density = 998.2 kg/m³</text>
<text x="440.0" y="509.5" textLength="309.8" lengthAdjust="spacing">Eta pump+motor+freq.converter = 73.3 %</text>
<text x="54.6" y="716.4" textLength="286.0" lengthAdjust="spacing">P1 (motor+freq.converter) = 1.606 kW</text>
<text x="54.6" y="737.6" textLength="110.2" lengthAdjust="spacing">P2 = 1.421 kW</text>
<text x="54.6" y="758.8" textLength="115.6" lengthAdjust="spacing">NPSH = 1.99 m</text>
</svg>
</body></html>
